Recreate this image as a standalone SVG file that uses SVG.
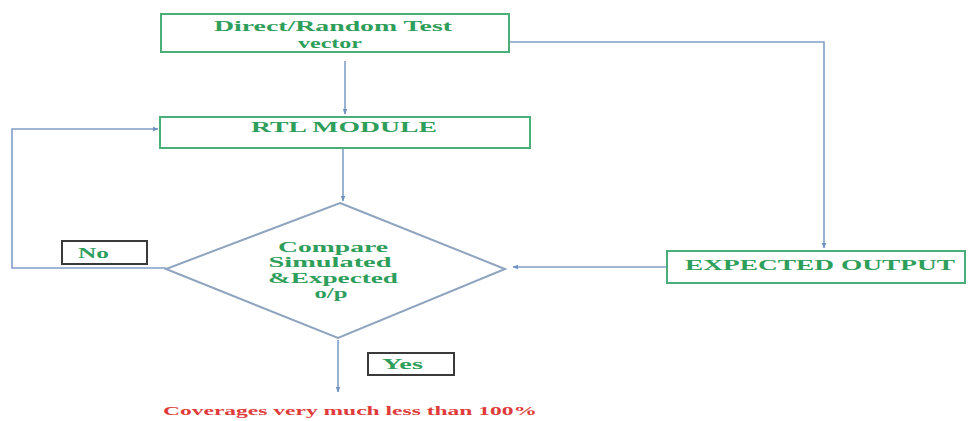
<svg xmlns="http://www.w3.org/2000/svg" width="968" height="421" viewBox="0 0 968 421">
  <style>
    .box { fill: #ffffff; stroke: #4aae78; stroke-width: 2; }
    .tag { fill: #ffffff; stroke: #3a3a3a; stroke-width: 2; }
    .diamond { fill: #ffffff; stroke: #8ea4bf; stroke-width: 2; }
    .label { font-family: "Liberation Serif", "Times New Roman", serif; font-weight: bold; fill: #2e9e5b; font-size: 15px; }
    .small { font-size: 14px; }
    .note { font-family: "Liberation Serif", "Times New Roman", serif; font-weight: bold; fill: #e03a3a; font-size: 12px; }
    .conn { fill: none; stroke: #80a0c8; stroke-width: 1.6; }
  </style>
  <defs>
    <marker id="arrow" viewBox="0 0 10 10" refX="9" refY="5" markerWidth="6" markerHeight="6" orient="auto-start-reverse" markerUnits="userSpaceOnUse">
      <path d="M0,1 L10,5 L0,9 z" fill="#6f92c2"/>
    </marker>
  </defs>

  <rect width="968" height="421" fill="#ffffff"/>

  <!-- connectors -->
  <g id="connectors">
    <path class="conn" d="M345,61 V114" marker-end="url(#arrow)"/>
    <path class="conn" d="M509,42 H824 V248" marker-end="url(#arrow)"/>
    <path class="conn" d="M343,149 V201" marker-end="url(#arrow)"/>
    <path class="conn" d="M166,268 H12 V129 H158" marker-end="url(#arrow)"/>
    <path class="conn" d="M667,267 H513" marker-end="url(#arrow)"/>
    <path class="conn" d="M338,340 V392" marker-end="url(#arrow)"/>
  </g>

  <g id="test-vector">
    <rect class="box" x="161" y="14" width="348" height="38"/>
    <text class="label" x="333" y="31" text-anchor="middle" textLength="238" lengthAdjust="spacingAndGlyphs">Direct/Random Test</text>
    <text class="label" x="330" y="48" text-anchor="middle" textLength="64" lengthAdjust="spacingAndGlyphs">vector</text>
  </g>

  <g id="rtl-module">
    <rect class="box" x="160" y="117" width="370" height="31"/>
    <text class="label" x="344" y="132" text-anchor="middle" textLength="186" lengthAdjust="spacingAndGlyphs">RTL MODULE</text>
  </g>

  <g id="compare">
    <polygon class="diamond" points="340,203 505,269 338,338 166,269"/>
    <text class="label small" x="333" y="252" text-anchor="middle" textLength="110" lengthAdjust="spacingAndGlyphs">Compare</text>
    <text class="label small" x="330" y="267" text-anchor="middle" textLength="123" lengthAdjust="spacingAndGlyphs">Simulated</text>
    <text class="label small" x="333" y="283" text-anchor="middle" textLength="130" lengthAdjust="spacingAndGlyphs">&amp;Expected</text>
    <text class="label small" x="331" y="298" text-anchor="middle" textLength="33" lengthAdjust="spacingAndGlyphs">o/p</text>
  </g>

  <g id="expected-output">
    <rect class="box" x="667" y="251" width="298" height="32"/>
    <text class="label" x="820" y="270" text-anchor="middle" textLength="270" lengthAdjust="spacingAndGlyphs">EXPECTED OUTPUT</text>
  </g>

  <g id="no-tag">
    <rect class="tag" x="62" y="241" width="85" height="23"/>
    <text class="label" x="78" y="258" textLength="31" lengthAdjust="spacingAndGlyphs">No</text>
  </g>

  <g id="yes-tag">
    <rect class="tag" x="368" y="353" width="86" height="22"/>
    <text class="label" x="382" y="369" textLength="41" lengthAdjust="spacingAndGlyphs">Yes</text>
  </g>

  <g id="coverage-note">
    <text class="note" x="350" y="415" text-anchor="middle" textLength="374" lengthAdjust="spacingAndGlyphs">Coverages very much less than 100%</text>
  </g>
</svg>
